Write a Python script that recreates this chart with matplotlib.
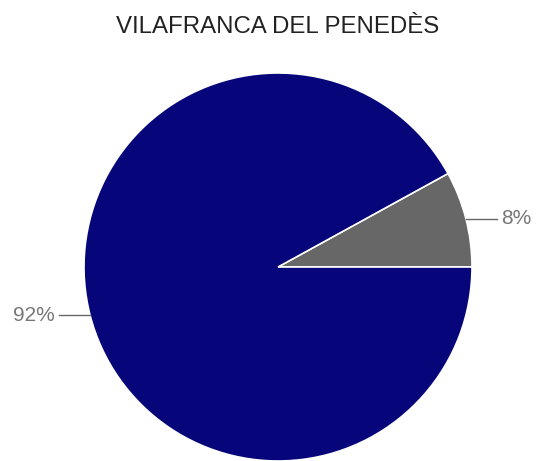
import matplotlib.pyplot as plt
import numpy as np

# dades
labels = ['Sí', 'No']
values = [8, 92]
pct_labels = ['8%', '92%']
colors = ['#676767', '#06067a']

plt.rcParams['font.family'] = ['Liberation Sans', 'DejaVu Sans']

fig = plt.figure(figsize=(5.36, 4.61), dpi=100)
ax = fig.add_axes([0, 0, 1, 1])

cx, cy, r = 278, 461 - 267, 194
wedges, _ = ax.pie(values, colors=colors, startangle=0, counterclock=True,
                   center=(cx, cy), radius=r, frame=True,
                   wedgeprops=dict(edgecolor='white', linewidth=1.2))
ax.set_xlim(0, 536)
ax.set_ylim(0, 461)
ax.axis('off')

# etiquetes amb línia guia
for w, txt in zip(wedges, pct_labels):
    ang = np.deg2rad((w.theta1 + w.theta2) / 2)
    x0, y0 = cx + r * np.cos(ang), cy + r * np.sin(ang)
    side = 1 if np.cos(ang) > 0 else -1
    x1 = x0 + side * 31
    ax.plot([x0, x1], [y0, y0], color='#666666', lw=1)
    ax.text(x1 + side * 4, y0, txt, ha='left' if side > 0 else 'right',
            va='center', fontsize=15, color='#777777')

fig.text(278 / 536, 1 - 27 / 461, 'VILAFRANCA DEL PENEDÈS', ha='center',
         va='center', fontsize=17.3, color='#222222')

fig.savefig('out.png', dpi=100)
